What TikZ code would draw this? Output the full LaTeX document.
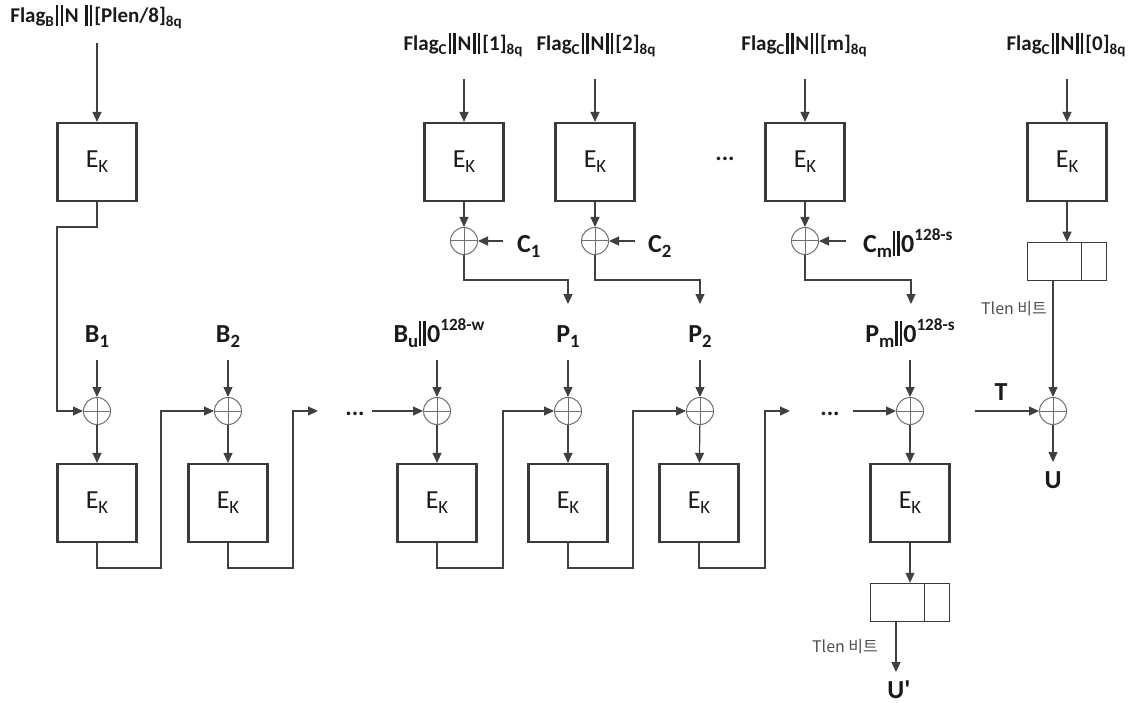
\documentclass[tikz,border=0pt]{standalone}
\usepackage{fontspec}
\usepackage{graphicx}
\setmainfont{Carlito}
\newfontfamily\rawfont{Carlito}
\newfontfamily\krfont{Noto Sans CJK KR}
\usetikzlibrary{arrows.meta,calc}
\definecolor{lc}{HTML}{404040}
\definecolor{bc}{HTML}{3A3A3A}
\definecolor{xc}{HTML}{707070}
\definecolor{tc}{HTML}{505050}
\definecolor{txt}{HTML}{1A1A1A}
% wide double bar (top labels)
\newcommand{\wbar}{\kern0.09em\rule[-0.17em]{0.11em}{0.98em}\kern0.12em\rule[-0.17em]{0.11em}{0.98em}\kern0.09em}
% tight double bar (big labels)
\newcommand{\dbar}{\kern0.03em\rule[-0.15em]{0.095em}{0.95em}\kern0.075em\rule[-0.15em]{0.095em}{0.95em}\kern0.05em}
\newcommand{\sbs}[1]{\raisebox{-0.2em}{\scalebox{0.72}{#1}}}
\newcommand{\sps}[1]{\raisebox{0.45em}{\scalebox{0.66}{#1}}}
\begin{document}
\begin{tikzpicture}[x=1pt,y=-1pt,
  line/.style={draw=lc, line width=1.2pt},
  arr/.style={line, -{Triangle[length=10pt,width=9pt]}},
  ebox/.style={draw=bc, line width=2.2pt, minimum width=79pt, minimum height=78pt, inner sep=0pt, text=txt, font=\fontsize{26}{26}\selectfont},
  xor/.style={circle, draw=xc, line width=1pt, minimum size=27pt, inner sep=0pt,
    path picture={\draw[xc,line width=1pt] (path picture bounding box.north) -- (path picture bounding box.south) (path picture bounding box.west) -- (path picture bounding box.east);}},
  lab/.style={font=\bfseries\fontsize{26}{26}\selectfont, inner sep=0pt, text=txt},
  flab/.style={font=\bfseries\fontsize{21}{21}\selectfont, inner sep=0pt, text=txt},
  tbox/.style={draw=bc, line width=1.5pt, minimum width=79pt, minimum height=38pt, inner sep=0pt},
  tlen/.style={font=\krfont\fontsize{16}{16}\selectfont, text=tc, inner sep=0pt},
  dots/.style={font=\bfseries\fontsize{24}{24}\selectfont, inner sep=0pt, text=txt},
]
\useasboundingbox (0,0) rectangle (1134,703);

% top labels
\node[flab] (lB) at (96,17) {Flag\sbs{B}\wbar N \wbar[Plen/8]\sbs{8q}};
\node[flab] (l1) at (463,45) {Flag\sbs{C}\wbar N\wbar[1]\sbs{8q}};
\node[flab] (l2) at (596,45) {Flag\sbs{C}\wbar N\wbar[2]\sbs{8q}};
\node[flab] (lm) at (804,45) {Flag\sbs{C}\wbar N\wbar[m]\sbs{8q}};
\node[flab] (l0) at (1066,45) {Flag\sbs{C}\wbar N\wbar[0]\sbs{8q}};

% top boxes
\node[ebox] (e0) at (97,162) {E\sbs{K}};
\node[ebox] (c1) at (464,162) {E\sbs{K}};
\node[ebox] (c2) at (595,162) {E\sbs{K}};
\node[ebox] (cm) at (805,162) {E\sbs{K}};
\node[ebox] (c0) at (1067,162) {E\sbs{K}};

\coordinate (sB) at (97,43);
\coordinate (s1) at (464,79);
\coordinate (s2) at (595,79);
\coordinate (sm) at (805,79);
\coordinate (s0) at (1067,79);
\draw[arr] (sB) -- (e0);
\draw[arr] (s1) -- (c1);
\draw[arr] (s2) -- (c2);
\draw[arr] (sm) -- (cm);
\draw[arr] (s0) -- (c0);

\node[dots] (tdots) at (725,159) {...};

% top xors
\node[xor] (cx1) at (464,241) {};
\node[xor] (cx2) at (595,241) {};
\node[xor] (cxm) at (805,241) {};
\draw[arr] (c1) -- (cx1);
\draw[arr] (c2) -- (cx2);
\draw[arr] (cm) -- (cxm);

\coordinate (ci1) at (503,241);
\coordinate (ci2) at (635,241);
\coordinate (cim) at (846,241);
\draw[arr] (ci1) -- (cx1);
\draw[arr] (ci2) -- (cx2);
\draw[arr] (cim) -- (cxm);
\node[lab, anchor=base west] (C1) at (517,252) {C\sbs{1}};
\node[lab, anchor=base west] (C2) at (648,252) {C\sbs{2}};
\node[lab, anchor=base west] (Cm) at (863,252) {C\sbs{m}\dbar 0\sps{128-s}};

\coordinate (pe1) at (568,304);
\coordinate (pe2) at (700,304);
\coordinate (pem) at (911,304);
\draw[arr] (cx1) -- ++(0,39) -| (pe1);
\draw[arr] (cx2) -- ++(0,39) -| (pe2);
\draw[arr] (cxm) -- ++(0,39) -| (pem);

% tag box right
\node[tbox] (tb0) at (1067,261.5) {};
\draw[line, draw=bc, line width=1.5pt] ([xshift=-26pt]tb0.north east) -- ([xshift=-26pt]tb0.south east);
\draw[arr] (c0) -- (tb0);
\node[tlen] (tl0) at (1014,309) {Tlen 비트};

% middle row xors
\node[xor] (xb1) at (97,411) {};
\node[xor] (xb2) at (228,411) {};
\node[xor] (xbu) at (437,411) {};
\node[xor] (xp1) at (568,411) {};
\node[xor] (xp2) at (700,411) {};
\node[xor] (xpm) at (910,411) {};
\node[xor] (xt) at (1053,411) {};

\node[lab, anchor=base] (B1) at (97,342) {B\sbs{1}};
\node[lab, anchor=base] (B2) at (228,342) {B\sbs{2}};
\node[lab, anchor=base] (Bu) at (439,342) {B\sbs{u}\dbar 0\sps{128-w}};
\node[lab, anchor=base] (P1) at (568,342) {P\sbs{1}};
\node[lab, anchor=base] (P2) at (700,342) {P\sbs{2}};
\node[lab, anchor=base] (Pm) at (910,342) {P\sbs{m}\dbar 0\sps{128-s}};
\node[lab, anchor=base] (T) at (1001,400) {T};

\coordinate (ib1) at (97,360);
\coordinate (ib2) at (228,360);
\coordinate (ibu) at (437,360);
\coordinate (ip1) at (568,360);
\coordinate (ip2) at (700,360);
\coordinate (ipm) at (910,360);
\draw[arr] (ib1) -- (xb1);
\draw[arr] (ib2) -- (xb2);
\draw[arr] (ibu) -- (xbu);
\draw[arr] (ip1) -- (xp1);
\draw[arr] (ip2) -- (xp2);
\draw[arr] (ipm) -- (xpm);

% bottom boxes
\node[ebox] (b1) at (97,503) {E\sbs{K}};
\node[ebox] (b2) at (228,503) {E\sbs{K}};
\node[ebox] (bu) at (437,503) {E\sbs{K}};
\node[ebox] (bp1) at (568,503) {E\sbs{K}};
\node[ebox] (bp2) at (699,503) {E\sbs{K}};
\node[ebox] (bpm) at (910,503) {E\sbs{K}};

\draw[arr] (xb1) -- (b1);
\draw[arr] (xb2) -- (b2);
\draw[arr] (xbu) -- (bu);
\draw[arr] (xp1) -- (bp1);
\draw[arr] (xp2) -- (bp2);
\draw[arr] (xpm) -- (bpm);

% chaining
\draw[arr] (e0) -- ++(0,65) -- ++(-40,0) |- (xb1);
\draw[arr] (b1) -- ++(0,65) -- ++(64,0) |- (xb2);
\coordinate (d1) at (318,411);
\draw[arr] (b2) -- ++(0,65) -- ++(65,0) |- (d1);
\node[dots] (dots1) at (355,414) {...};
\coordinate (d1s) at (372,411);
\draw[arr] (d1s) -- (xbu);
\draw[arr] (bu) -- ++(0,65) -- ++(66,0) |- (xp1);
\draw[arr] (bp1) -- ++(0,65) -- ++(65,0) |- (xp2);
\coordinate (d2) at (790,411);
\draw[arr] (bp2) -- ++(0,65) -- ++(66,0) |- (d2);
\node[dots] (dots2) at (830,414) {...};
\coordinate (d2s) at (853,411);
\draw[arr] (d2s) -- (xpm);

% final tag
\node[tbox] (tb1) at (910,602.5) {};
\draw[line, draw=bc, line width=1.5pt] ([xshift=-26pt]tb1.north east) -- ([xshift=-26pt]tb1.south east);
\draw[arr] (bpm) -- (tb1);
\coordinate (ue) at (896,672);
\draw[arr] (tb1.south -| ue) -- (ue);
\node[lab, anchor=base, font=\rawfont\bfseries\fontsize{26}{26}\selectfont] (Up) at (899,698) {U'};
\node[tlen] (tl1) at (845,647) {Tlen 비트};

% T xor
\coordinate (ti) at (975,411);
\draw[arr] (ti) -- (xt);
\draw[arr] (tb0.south -| xt) -- (xt);
\coordinate (ut) at (1053,462);
\draw[arr] (xt) -- (ut);
\node[lab, anchor=base] (U) at (1053,488) {U};
\end{tikzpicture}
\end{document}
